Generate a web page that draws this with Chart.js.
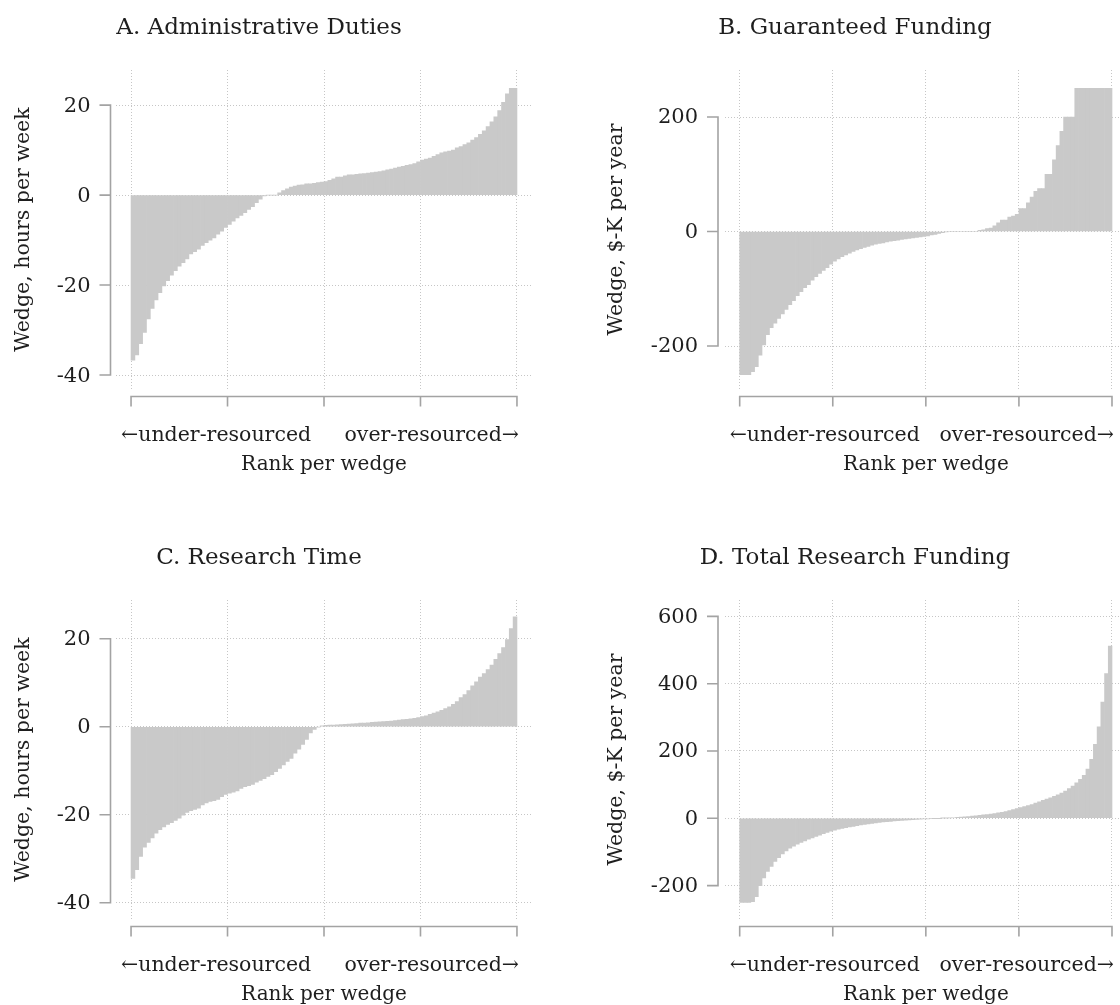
<!DOCTYPE html>
<html>
<head>
<meta charset="utf-8">
<script src="https://cdn.jsdelivr.net/npm/chart.js@4.4.1/dist/chart.umd.min.js"></script>
<style>
  html, body { margin: 0; padding: 0; background: #ffffff; overflow: hidden; }
  .panel { position: absolute; width: 560px; height: 475px; }
</style>
</head>
<body>
<div class="panel" style="left:0;top:0"><canvas id="panelA" width="560" height="475"></canvas></div>
<div class="panel" style="left:560px;top:0"><canvas id="panelB" width="560" height="475"></canvas></div>
<div class="panel" style="left:0;top:530px"><canvas id="panelC" width="560" height="475"></canvas></div>
<div class="panel" style="left:560px;top:530px"><canvas id="panelD" width="560" height="475"></canvas></div>
<script>
// Wedges sorted from most under-resourced to most over-resourced (100 rank bins each).
const adminDuties = [
  -36.7, -35.5, -33.0, -30.5, -27.5, -25.2, -23.3, -21.7, -20.2, -19.0,
  -17.8, -16.8, -15.8, -15.0, -14.2, -13.1, -12.6, -12.0, -11.2, -10.6,
  -10.0, -9.5, -8.7, -8.0, -7.2, -6.5, -5.8, -5.1, -4.5, -3.9,
  -3.2, -2.6, -1.7, -0.9, -0.2, 0, 0, 0, 0.5, 1.0,
  1.4, 1.8, 2.0, 2.2, 2.3, 2.5, 2.5, 2.6, 2.8, 2.9,
  3.0, 3.3, 3.6, 4.0, 4.0, 4.3, 4.5, 4.5, 4.6, 4.7,
  4.8, 4.9, 5.0, 5.1, 5.2, 5.4, 5.6, 5.8, 6.0, 6.2,
  6.4, 6.6, 6.8, 7.0, 7.4, 7.8, 8.0, 8.2, 8.6, 9.0,
  9.4, 9.6, 9.8, 10.0, 10.5, 10.8, 11.2, 11.6, 12.2, 12.8,
  13.5, 14.3, 15.2, 16.3, 17.4, 18.8, 20.6, 22.5, 23.7, 23.7
];
const guaranteedFunding = [
  -250, -250, -250, -245, -236, -216, -198, -180, -168, -160,
  -152, -144, -136, -128, -121, -112, -105, -98, -93, -85,
  -79, -73, -68, -63, -57, -52, -48, -44, -41, -38,
  -35, -32, -30, -28, -26, -24, -22, -21, -20, -18,
  -17, -16, -15, -14, -13, -12, -11, -10.5, -9.5, -8.5,
  -7.5, -6, -5, -3.5, -2, -0.5, 0, 0, 0, 0,
  0, 0, 0, 0, 2, 3, 5, 6, 10, 15,
  20, 20, 25, 27, 30, 40, 40, 50, 60, 70,
  75, 75, 100, 100, 125, 150, 175, 200, 200, 200,
  250, 250, 250, 250, 250, 250, 250, 250, 250, 250
];
const researchTime = [
  -34.5, -32.5, -29.5, -27.4, -26.3, -25.3, -24.2, -23.4, -22.8, -22.2,
  -21.8, -21.3, -20.8, -20.1, -19.5, -19.1, -18.8, -18.5, -17.8, -17.3,
  -17.0, -16.8, -16.5, -15.9, -15.4, -15.1, -14.9, -14.6, -14.0, -13.6,
  -13.4, -13.1, -12.6, -12.2, -11.8, -11.3, -10.9, -10.2, -9.5, -8.7,
  -7.9, -7.2, -6.0, -5.1, -4.0, -2.9, -1.4, -0.6, -0.1, 0.2,
  0.3, 0.35, 0.4, 0.45, 0.5, 0.55, 0.6, 0.65, 0.7, 0.8,
  0.85, 0.9, 1.0, 1.05, 1.1, 1.15, 1.2, 1.3, 1.4, 1.5,
  1.6, 1.7, 1.8, 1.9, 2.1, 2.3, 2.5, 2.8, 3.1, 3.4,
  3.7, 4.1, 4.5, 5.1, 5.7, 6.6, 7.3, 8.2, 9.3, 10.2,
  11.3, 12.1, 13.0, 14.0, 15.3, 16.6, 18.0, 19.8, 22.3, 25.0
];
const totalFunding = [
  -250, -250, -250, -248, -233, -200, -177, -158, -143, -128,
  -117, -106, -97, -89, -83, -77, -72, -67, -62, -58,
  -54, -50, -46, -42, -38, -35, -32, -30, -28, -26,
  -24, -22, -20, -18, -16.5, -15, -14, -12.5, -11, -10,
  -9, -8, -7.2, -6.5, -5.8, -5, -4.3, -3.6, -2.9, -2.2,
  -1.6, -1.0, -0.5, -0.1, 0.2, 0.6, 1.0, 1.7, 2.5, 3.3,
  4.2, 5.2, 6.3, 7.4, 8.6, 10, 11.2, 12.5, 14, 16,
  18, 20, 23, 26, 29, 32, 35, 38, 41, 45,
  49, 53, 57, 61, 65, 70, 75, 81, 88, 96,
  105, 116, 128, 146, 175, 220, 272, 345, 430, 512
];

// Axis ticks
const rankTicks = [0.5, 25.5, 50.5, 75.5, 100.5];
const hoursTicks = [20, 0, -20, -40];
const guaranteedTicks = [200, 0, -200];
const totalTicks = [600, 400, 200, 0, -200];

// Text
const panelTitles = ['A. Administrative Duties', 'B. Guaranteed Funding', 'C. Research Time', 'D. Total Research Funding'];
const yTitles = ['Wedge, hours per week', 'Wedge, $-K per year', 'Wedge, hours per week', 'Wedge, $-K per year'];
const rankEnds = ['\u2190under-resourced', 'over-resourced\u2192'];
const rankTitle = 'Rank per wedge';

const FONT = '"DejaVu Serif", "Liberation Serif", serif';
const TEXT = '#1e1e1e';
const AXIS = '#a3a3a3';
const GRID = '#c6c6c6';
const BAR = '#c9c9c9';

const panels = [
  { id: 'panelA', title: panelTitles[0], yTitle: yTitles[0], values: adminDuties, yTicks: hoursTicks,
    yMin: -43.1, yMax: 27.8, xMin: -3.5, xMax: 104.5,
    pad: { left: 115.6, right: 27.6, top: 70, bottom: 86 }, titleX: 259, axisX: 110.5, yTitleX: 23.5 },
  { id: 'panelB', title: panelTitles[1], yTitle: yTitles[1], values: guaranteedFunding, yTicks: guaranteedTicks,
    yMin: -275.1, yMax: 282.1, xMin: -3.5, xMax: 102.65,
    pad: { left: 164.8, right: 0, top: 70, bottom: 86 }, titleX: 295, axisX: 158, yTitleX: 57 },
  { id: 'panelC', title: panelTitles[2], yTitle: yTitles[2], values: researchTime, yTicks: hoursTicks,
    yMin: -43.7, yMax: 28.8, xMin: -3.5, xMax: 104.5,
    pad: { left: 115.6, right: 27.6, top: 70, bottom: 86 }, titleX: 259, axisX: 110.5, yTitleX: 23.5 },
  { id: 'panelD', title: panelTitles[3], yTitle: yTitles[3], values: totalFunding, yTicks: totalTicks,
    yMin: -299.3, yMax: 648.7, xMin: -3.5, xMax: 102.65,
    pad: { left: 164.8, right: 0, top: 70, bottom: 86 }, titleX: 295, axisX: 158, yTitleX: 57 }
];

// Offset axes, tick labels and titles drawn around the plotting region
function framePlugin(p) {
  return {
    id: 'frame' + p.id,
    afterDraw(chart) {
      const ctx = chart.ctx;
      const xs = chart.scales.x, ys = chart.scales.y;
      const area = chart.chartArea;
      ctx.save();
      ctx.strokeStyle = AXIS;
      ctx.lineWidth = 1.6;
      ctx.lineCap = 'butt';

      // y axis
      const yTop = ys.getPixelForValue(p.yTicks[0]);
      const yBot = ys.getPixelForValue(p.yTicks[p.yTicks.length - 1]);
      ctx.beginPath();
      ctx.moveTo(p.axisX, yTop - 0.8);
      ctx.lineTo(p.axisX, yBot + 0.8);
      p.yTicks.forEach(t => {
        const y = ys.getPixelForValue(t);
        ctx.moveTo(p.axisX - 11, y);
        ctx.lineTo(p.axisX, y);
      });
      ctx.stroke();

      // x axis
      const axisY = area.bottom + 7.5;
      const x0 = xs.getPixelForValue(rankTicks[0]);
      const x1 = xs.getPixelForValue(rankTicks[rankTicks.length - 1]);
      ctx.beginPath();
      ctx.moveTo(x0 - 0.8, axisY);
      ctx.lineTo(x1 + 0.8, axisY);
      rankTicks.forEach(t => {
        const x = xs.getPixelForValue(t);
        ctx.moveTo(x, axisY);
        ctx.lineTo(x, axisY + 10);
      });
      ctx.stroke();

      ctx.fillStyle = TEXT;

      // y tick labels
      ctx.font = '21px ' + FONT;
      ctx.textAlign = 'right';
      ctx.textBaseline = 'middle';
      p.yTicks.forEach(t => {
        ctx.fillText(String(t), p.axisX - 20, ys.getPixelForValue(t) + 1);
      });

      // rank labels
      ctx.font = '20.5px ' + FONT;
      ctx.textBaseline = 'alphabetic';
      ctx.textAlign = 'left';
      ctx.fillText(rankEnds[0], x0 - 10, 441);
      ctx.textAlign = 'right';
      ctx.fillText(rankEnds[1], x1 + 2, 441);
      ctx.font = '20px ' + FONT;
      ctx.textAlign = 'center';
      ctx.fillText(rankTitle, (x0 + x1) / 2, 470);

      // panel title
      ctx.font = '23px ' + FONT;
      ctx.fillText(p.title, p.titleX, 34);

      // y title
      ctx.font = '20.5px ' + FONT;
      ctx.translate(p.yTitleX, (area.top + area.bottom) / 2);
      ctx.rotate(-Math.PI / 2);
      ctx.textBaseline = 'middle';
      ctx.fillText(p.yTitle, 0, 0);
      ctx.restore();
    }
  };
}

panels.forEach(p => {
  const borderOpts = { display: false, dash: [1, 2] };
  new Chart(document.getElementById(p.id), {
    type: 'bar',
    data: {
      datasets: [{
        data: p.values.map((v, i) => ({ x: i + 1, y: v })),
        backgroundColor: BAR,
        borderWidth: 0,
        barPercentage: 1,
        categoryPercentage: 1
      }]
    },
    options: {
      responsive: false,
      animation: false,
      devicePixelRatio: 1,
      layout: { padding: p.pad },
      plugins: { legend: { display: false }, tooltip: { enabled: false } },
      scales: {
        x: {
          type: 'linear', min: p.xMin, max: p.xMax, z: 1, offset: false,
          afterBuildTicks: s => { s.ticks = rankTicks.map(v => ({ value: v })); },
          ticks: { display: false },
          grid: { color: GRID, lineWidth: 1, drawTicks: false, offset: false },
          border: borderOpts
        },
        y: {
          type: 'linear', min: p.yMin, max: p.yMax, z: 1,
          afterBuildTicks: s => { s.ticks = p.yTicks.map(v => ({ value: v })); },
          ticks: { display: false },
          grid: { color: GRID, lineWidth: 1, drawTicks: false },
          border: borderOpts
        }
      }
    },
    plugins: [framePlugin(p)]
  });
});
</script>
</body>
</html>
